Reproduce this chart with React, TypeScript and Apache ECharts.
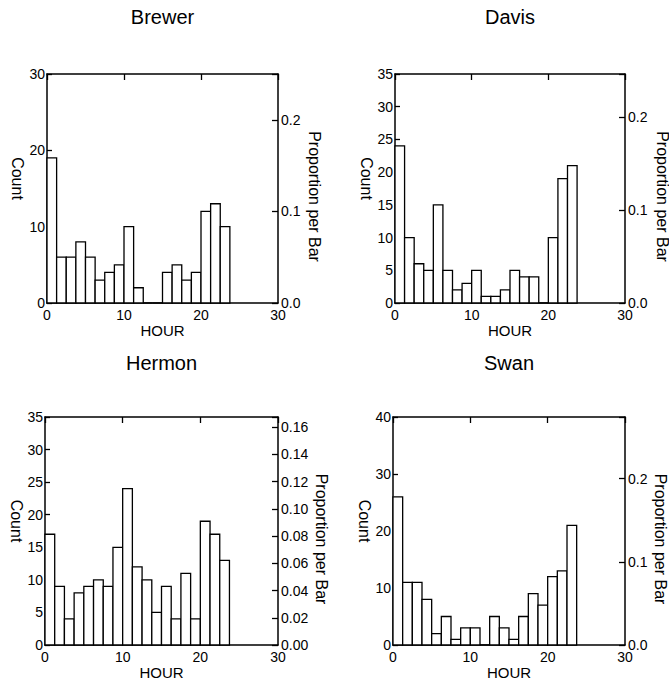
import React, { useEffect, useRef } from "react";
import * as echarts from "echarts";

// Hourly counts per station, 19 bins of 1.25 h starting at hour 0
const BIN_WIDTH = 1.25;
const stations = ["Brewer", "Davis", "Hermon", "Swan"];
const brewerCounts = [19, 6, 6, 8, 6, 3, 4, 5, 10, 2, 0, 0, 4, 5, 3, 4, 12, 13, 10];
const davisCounts = [24, 10, 6, 5, 15, 5, 2, 3, 5, 1, 1, 2, 5, 4, 4, 0, 10, 19, 21];
const hermonCounts = [17, 9, 4, 8, 9, 10, 9, 15, 24, 12, 10, 5, 9, 4, 11, 4, 19, 17, 13];
const swanCounts = [26, 11, 11, 8, 2, 5, 1, 3, 3, 0, 5, 3, 1, 5, 9, 7, 12, 13, 21];
const countsByStation = [brewerCounts, davisCounts, hermonCounts, swanCounts];

// Axis settings per panel
const countMax = [30, 35, 35, 40];
const countStep = [10, 5, 5, 10];
const propStep = [0.1, 0.1, 0.02, 0.1];
const propDecimals = [1, 1, 2, 1];
const hourMin = 0;
const hourMax = 30;
const hourStep = 10;

// Panel plot rectangles [left, top, width, height]
const panels = [
  [47, 74, 231, 229],
  [395, 74, 230, 229],
  [45, 417, 233, 228],
  [393, 417, 232, 228],
];
const titleY = [17, 17, 363, 363];
const countX = [17.5, 366, 16, 364];
const propX = [314, 662, 321, 660];

const FONT = '"Liberation Sans", Arial, Helvetica, sans-serif';
const INK = "#000";

function buildOption() {
  const grid: any[] = [];
  const xAxis: any[] = [];
  const yAxis: any[] = [];
  const series: any[] = [];
  const graphic: any[] = [];

  panels.forEach((p, i) => {
    const [left, top, width, height] = p;
    grid.push({ left, top, width, height, containLabel: false });
    const counts = countsByStation[i];
    const total = counts.reduce((a, b) => a + b, 0);

    const axisLine = { show: true, onZero: false, lineStyle: { color: INK, width: 1.5 } };
    const labelStyle = { color: INK, fontSize: 14, fontFamily: FONT };

    // bottom hour axis
    xAxis.push({
      type: "value",
      gridIndex: i,
      position: "bottom",
      min: hourMin,
      max: hourMax,
      interval: hourStep,
      axisLine,
      axisTick: { show: false },
      splitLine: { show: false },
      axisLabel: { ...labelStyle, margin: 5 },
    });
    // top frame with inward ticks
    xAxis.push({
      type: "value",
      gridIndex: i,
      position: "top",
      min: hourMin,
      max: hourMax,
      interval: hourStep,
      axisLine,
      axisTick: { show: true, inside: true, length: 6, lineStyle: { color: INK, width: 1.3 } },
      splitLine: { show: false },
      axisLabel: { show: false },
    });
    // count axis
    yAxis.push({
      type: "value",
      gridIndex: i,
      position: "left",
      min: 0,
      max: countMax[i],
      interval: countStep[i],
      axisLine,
      axisTick: { show: true, inside: true, length: 5, lineStyle: { color: INK, width: 1.3 } },
      splitLine: { show: false },
      axisLabel: { ...labelStyle, margin: 2 },
    });
    // proportion axis
    const step = propStep[i];
    yAxis.push({
      type: "value",
      gridIndex: i,
      position: "right",
      min: 0,
      max: countMax[i] / total,
      interval: step,
      axisLine,
      axisTick: { show: true, inside: true, length: 6, lineStyle: { color: INK, width: 1.3 } },
      splitLine: { show: false },
      axisLabel: {
        ...labelStyle,
        margin: 3,
        formatter: (v: number) => {
          const k = v / step;
          return Math.abs(k - Math.round(k)) < 1e-6 ? v.toFixed(propDecimals[i]) : "";
        },
      },
    });

    const data = counts.map((c, j) => [j * BIN_WIDTH, (j + 1) * BIN_WIDTH, c]);
    series.push({
      type: "custom",
      coordinateSystem: "cartesian2d",
      xAxisIndex: i * 2,
      yAxisIndex: i * 2,
      encode: { x: [0, 1], y: 2 },
      data,
      renderItem: (_params: any, api: any) => {
        const p0 = api.coord([api.value(0), api.value(2)]);
        const p1 = api.coord([api.value(1), 0]);
        return {
          type: "rect",
          shape: { x: p0[0], y: p0[1], width: p1[0] - p0[0], height: p1[1] - p0[1] },
          style: { fill: "#fff", stroke: INK, lineWidth: 1.3 },
        };
      },
    });

    const cx = left + width / 2;
    const cy = top + height / 2;
    graphic.push({
      type: "text",
      x: cx,
      y: titleY[i],
      style: { text: stations[i], font: `20px ${FONT}`, fill: INK, textAlign: "center", textVerticalAlign: "middle" },
    });
    graphic.push({
      type: "text",
      x: cx,
      y: top + height + 27,
      style: { text: "HOUR", font: `15px ${FONT}`, fill: INK, textAlign: "center", textVerticalAlign: "middle" },
    });
    graphic.push({
      type: "text",
      x: countX[i],
      y: cy - 10,
      rotation: -Math.PI / 2,
      style: { text: "Count", font: `16px ${FONT}`, fill: INK, textAlign: "center", textVerticalAlign: "middle" },
    });
    graphic.push({
      type: "text",
      x: propX[i],
      y: cy + 8,
      rotation: -Math.PI / 2,
      style: { text: "Proportion per Bar", font: `16px ${FONT}`, fill: INK, textAlign: "center", textVerticalAlign: "middle" },
    });
  });

  return { animation: false, backgroundColor: "#fff", grid, xAxis, yAxis, series, graphic };
}

export default function App() {
  const ref = useRef<HTMLDivElement>(null);
  useEffect(() => {
    document.body.style.margin = "0";
    if (!ref.current) return;
    const chart = echarts.init(ref.current, null, { renderer: "svg" });
    chart.setOption(buildOption() as any);
    return () => chart.dispose();
  }, []);
  return <div ref={ref} style={{ width: 669, height: 687 }} />;
}
